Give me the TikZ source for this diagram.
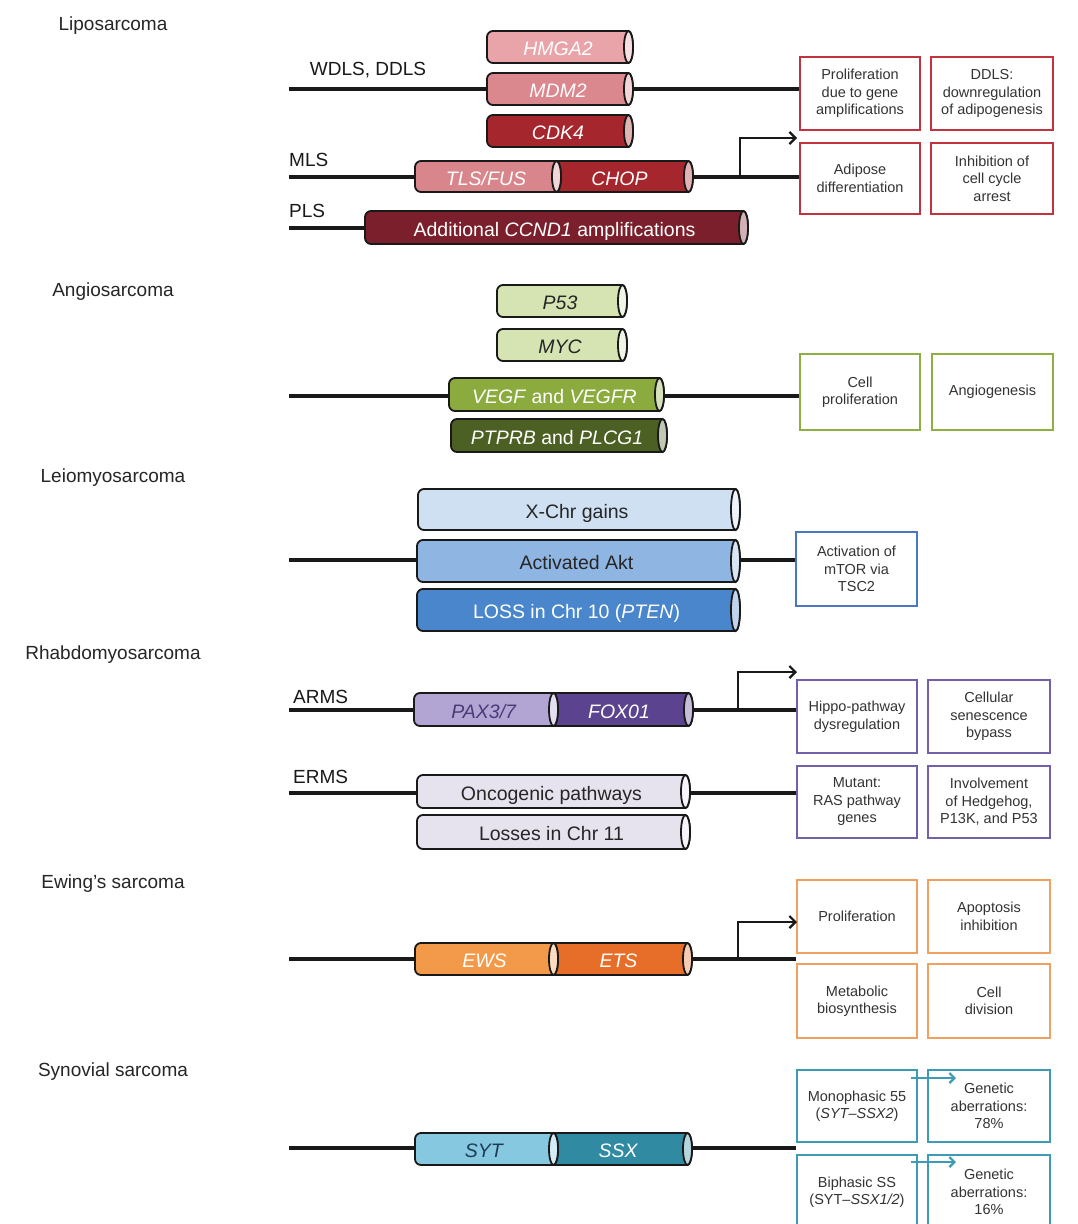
\documentclass[tikz,border=0pt]{standalone}
\usepackage{fontspec}
\setmainfont{Liberation Sans}
\usetikzlibrary{arrows.meta}
% colours
\definecolor{cRedBox}{HTML}{C2343D}
\definecolor{cHMGA}{HTML}{E9A4AA}
\definecolor{cMDM}{HTML}{DA878E}
\definecolor{cCDK}{HTML}{A6262D}
\definecolor{cTLS}{HTML}{D8868C}
\definecolor{cCCND}{HTML}{7A1F2B}
\definecolor{cGreenBox}{HTML}{8DB043}
\definecolor{cP53}{HTML}{D5E4B2}
\definecolor{cVEGF}{HTML}{8BAB3E}
\definecolor{cPTPRB}{HTML}{4D6024}
\definecolor{cBlueBox}{HTML}{4A78C0}
\definecolor{cXChr}{HTML}{CFE0F2}
\definecolor{cAkt}{HTML}{8FB5E2}
\definecolor{cLoss}{HTML}{4A86CC}
\definecolor{cPurpleBox}{HTML}{7460A8}
\definecolor{cPAX}{HTML}{B3A5D3}
\definecolor{cPAXt}{HTML}{4B3A7A}
\definecolor{cFOX}{HTML}{5B4390}
\definecolor{cOnc}{HTML}{E6E2EE}
\definecolor{cOrangeBox}{HTML}{F0A060}
\definecolor{cEWS}{HTML}{F39A4A}
\definecolor{cETS}{HTML}{E66E28}
\definecolor{cTealBox}{HTML}{3F9AB5}
\definecolor{cSYT}{HTML}{86C8DF}
\definecolor{cSYTt}{HTML}{1A3C55}
\definecolor{cSSX}{HTML}{2F8AA2}
\definecolor{cBoxText}{HTML}{333333}

\tikzset{
  grouptitle/.style={font=\fontsize{19}{22}\selectfont, text=black!85, inner sep=0, text height=14pt, text depth=0pt},
  sublabel/.style={font=\fontsize{19}{22}\selectfont, text=black!90, inner sep=0, anchor=west, text height=14pt, text depth=0pt},
  chrline/.style={line width=3.6pt, draw=black!90},
  cylbody/.style={line width=1.8pt, draw=black!90},
  genetext/.style={font=\fontsize{19.5}{22}\selectfont, inner sep=0, text height=14pt, text depth=0pt},
  effbox/.style={draw, line width=1.7pt, inner sep=0, align=center,
     font=\fontsize{14.5}{17.5}\selectfont, text=cBoxText,
     minimum width=120pt, minimum height=73pt},
  turnarrow/.style={line width=2.2pt, draw=black!90, -{Straight Barb[length=6pt,width=12pt,line width=2.2pt]}},
  smallarrow/.style={line width=2.2pt, draw=cTealBox, -{Straight Barb[length=5pt,width=10pt,line width=2.2pt]}},
}

% #1 name, #2 x1, #3 y1, #4 x2, #5 y2, #6 fill, #7 text colour, #8 text
\newcommand\gcyl[8]{%
  \pgfmathsetmacro\cym{(#3+#5)/2}%
  \pgfmathsetmacro\cyr{(#5-#3)/2}%
  \pgfmathsetmacro\cxc{#4-4.5}%
  \draw[cylbody, fill=#6] (\cxc,#3) -- (#2+6,#3)
     arc[start angle=90, end angle=180, radius=6pt] -- (#2,#5-6)
     arc[start angle=180, end angle=270, radius=6pt] -- (\cxc,#5)
     arc[start angle=-90, end angle=90, x radius=4.5pt, y radius=\cyr*1pt] -- cycle;
  \draw[cylbody, fill=#6!35!white] (\cxc,\cym) ellipse[x radius=4.5pt, y radius=\cyr*1pt];
  \node[genetext, text=#7] (#1) at ({(#2+#4)/2-2},\cym+1.5) {#8};
}

\begin{document}
\begin{tikzpicture}[x=1pt, y=-1pt]
\useasboundingbox[fill=white] (0,0) rectangle (1078,1224);

% ---------------- titles ----------------
\node[grouptitle] (tLipo) at (113,23) {Liposarcoma};
\node[grouptitle] (tAngio) at (113,289) {Angiosarcoma};
\node[grouptitle] (tLeio) at (113,475) {Leiomyosarcoma};
\node[grouptitle] (tRhab) at (113,652) {Rhabdomyosarcoma};
\node[grouptitle] (tEwing) at (113,881) {Ewing's sarcoma};
\node[grouptitle] (tSyn) at (113,1069) {Synovial sarcoma};

% ---------------- subtype labels ----------------
\node[sublabel, anchor=center] (lWD) at (368,68) {WDLS, DDLS};
\node[sublabel] (lMLS) at (289,159) {MLS};
\node[sublabel] (lPLS) at (289,210) {PLS};
\node[sublabel] (lARMS) at (293,696) {ARMS};
\node[sublabel] (lERMS) at (293,776) {ERMS};

% ---------------- effect boxes ----------------
\node[effbox, draw=cRedBox] (bL1) at (860,93.5) {Proliferation\\due to gene\\amplifications};
\node[effbox, draw=cRedBox, minimum width=122pt] (bL2) at (992,93.5) {DDLS:\\downregulation\\of adipogenesis};
\node[effbox, draw=cRedBox, minimum height=71pt] (bL3) at (860,178.5) {Adipose\\differentiation};
\node[effbox, draw=cRedBox, minimum width=122pt, minimum height=71pt] (bL4) at (992,178.5) {Inhibition of\\cell cycle\\arrest};

\node[effbox, draw=cGreenBox, minimum height=76pt] (bA1) at (860,392) {Cell\\proliferation};
\node[effbox, draw=cGreenBox, minimum width=121pt, minimum height=76pt] (bA2) at (992.5,392) {Angiogenesis};

\node[effbox, draw=cBlueBox, minimum width=121pt, minimum height=74pt] (bLe) at (856.5,569) {Activation of\\mTOR via\\TSC2};

\node[effbox, draw=cPurpleBox] (bR1) at (857,716.5) {Hippo-pathway\\dysregulation};
\node[effbox, draw=cPurpleBox, minimum width=122pt] (bR2) at (989,716.5) {Cellular\\senescence\\bypass};
\node[effbox, draw=cPurpleBox, minimum height=72pt] (bR3) at (857,802) {Mutant:\\RAS pathway\\genes};
\node[effbox, draw=cPurpleBox, minimum width=122pt, minimum height=72pt] (bR4) at (989,802) {Involvement\\of Hedgehog,\\P13K, and P53};

\node[effbox, draw=cOrangeBox] (bE1) at (857,916.5) {Proliferation};
\node[effbox, draw=cOrangeBox, minimum width=122pt] (bE2) at (989,916.5) {Apoptosis\\inhibition};
\node[effbox, draw=cOrangeBox, minimum height=74pt] (bE3) at (857,1001) {Metabolic\\biosynthesis};
\node[effbox, draw=cOrangeBox, minimum width=122pt, minimum height=74pt] (bE4) at (989,1001) {Cell\\division};

\node[effbox, draw=cTealBox, minimum height=72pt] (bS1) at (857,1106) {Monophasic 55\\(\textit{SYT–SSX2})};
\node[effbox, draw=cTealBox, minimum width=122pt, minimum height=72pt] (bS2) at (989,1106) {Genetic\\aberrations:\\78\%};
\node[effbox, draw=cTealBox, minimum height=74pt] (bS3) at (857,1192) {Biphasic SS\\(SYT–\textit{SSX1/2})};
\node[effbox, draw=cTealBox, minimum width=122pt, minimum height=74pt] (bS4) at (989,1192) {Genetic\\aberrations:\\16\%};

% ---------------- chromosome lines ----------------
\coordinate (sWD) at (289,89);
\coordinate (sMLS) at (289,177);
\coordinate (sPLS) at (289,228);
\coordinate (ePLS) at (390,228);
\coordinate (sAng) at (289,396);
\coordinate (sLei) at (289,560);
\coordinate (sARMS) at (289,710);
\coordinate (sERMS) at (289,793);
\coordinate (sEw) at (289,959);
\coordinate (sSy) at (289,1148);

\draw[chrline] (sWD) -- (sWD -| bL1.west);
\draw[chrline] (sMLS) -- (sMLS -| bL3.west);
\draw[chrline] (sPLS) -- (ePLS);
\draw[chrline] (sAng) -- (sAng -| bA1.west);
\draw[chrline] (sLei) -- (sLei -| bLe.west);
\draw[chrline] (sARMS) -- (sARMS -| bR1.west);
\draw[chrline] (sERMS) -- (sERMS -| bR3.west);
\draw[chrline] (sEw) -- (sEw -| bE1.west);
\draw[chrline] (sSy) -- (sSy -| bS1.west);

% ---------------- genes (cylinders) ----------------
\gcyl{gHMGA}{487}{31}{633}{63}{cHMGA}{white}{\textit{HMGA2}}
\gcyl{gMDM}{487}{73}{633}{105}{cMDM}{white}{\textit{MDM2}}
\gcyl{gCDK}{487}{115}{633}{147}{cCDK}{white}{\textit{CDK4}}
\gcyl{gCHOP}{550}{161}{693}{192}{cCDK}{white}{\textit{CHOP}}
\gcyl{gTLS}{415}{161}{561}{192}{cTLS}{white}{\textit{TLS/FUS}}
\gcyl{gCCND}{365}{211}{748}{244}{cCCND}{white}{Additional \textit{CCND1} amplifications}

\gcyl{gP53}{497}{285}{627}{317}{cP53}{black!85}{\textit{P53}}
\gcyl{gMYC}{497}{329}{627}{361}{cP53}{black!85}{\textit{MYC}}
\gcyl{gVEGF}{449}{378}{664}{411}{cVEGF}{white}{\textit{VEGF} and \textit{VEGFR}}
\gcyl{gPTPRB}{451}{419}{667}{452}{cPTPRB}{white}{\textit{PTPRB} and \textit{PLCG1}}

\gcyl{gXChr}{418}{489}{740}{530}{cXChr}{black!85}{X-Chr gains}
\gcyl{gAkt}{417}{540}{740}{582}{cAkt}{black!85}{Activated Akt}
\gcyl{gLoss}{417}{589}{740}{631}{cLoss}{white}{LOSS in Chr 10 (\textit{PTEN})}

\gcyl{gFOX}{549}{693}{693}{726}{cFOX}{white}{\textit{FOX01}}
\gcyl{gPAX}{414}{693}{558}{726}{cPAX}{cPAXt}{\textit{PAX3/7}}
\gcyl{gOnc}{417}{775}{690}{808}{cOnc}{black!85}{Oncogenic pathways}
\gcyl{gLos}{417}{815}{690}{849}{cOnc}{black!85}{Losses in Chr 11}

\gcyl{gETS}{549}{943}{692}{975}{cETS}{white}{\textit{ETS}}
\gcyl{gEWS}{415}{943}{558}{975}{cEWS}{white}{\textit{EWS}}

\gcyl{gSSX}{549}{1133}{692}{1165}{cSSX}{white}{\textit{SSX}}
\gcyl{gSYT}{415}{1133}{558}{1165}{cSYT}{cSYTt}{\textit{SYT}}

% ---------------- turn arrows ----------------
\coordinate (aL) at (740,177);  \coordinate (tL) at (797,138);
\coordinate (aR) at (738,710);  \coordinate (tR) at (797,672);
\coordinate (aE) at (738,959);  \coordinate (tE) at (797,922);
\draw[turnarrow] (aL) |- (tL);
\draw[turnarrow] (aR) |- (tR);
\draw[turnarrow] (aE) |- (tE);

\coordinate (sa1) at (911,1078); \coordinate (ta1) at (956,1078);
\coordinate (sa2) at (911,1162); \coordinate (ta2) at (956,1162);
\draw[smallarrow] (sa1) -- (ta1);
\draw[smallarrow] (sa2) -- (ta2);
\end{tikzpicture}
\end{document}
